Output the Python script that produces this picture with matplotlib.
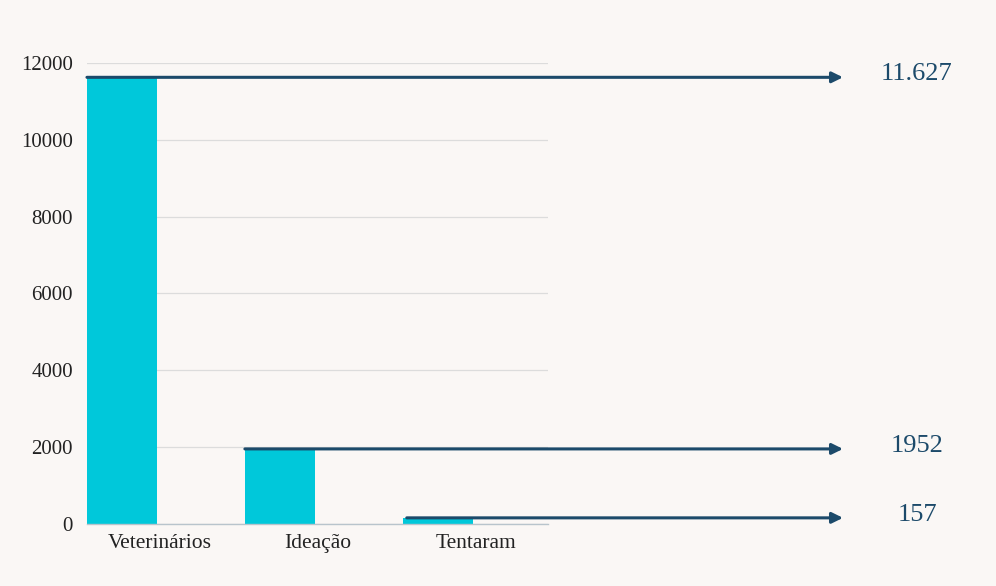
import matplotlib
matplotlib.use('Agg')
import matplotlib.pyplot as plt

categories = ['Veterinários', 'Ideação', 'Tentaram']
values = [11627, 1952, 157]
value_labels = ['11.627', '1952', '157']

BG = '#faf7f5'
BAR = '#00c8da'
NAVY = '#1c4a6a'

plt.rcParams['font.family'] = ['Liberation Serif', 'DejaVu Serif']

fig = plt.figure(figsize=(9.96, 5.86), dpi=100, facecolor=BG)
ax = fig.add_axes([0.0873, 0.106, 0.4627, 0.7865], facecolor=BG)

x = range(len(categories))
left = [i - 0.462 for i in x]
ax.bar(left, values, width=0.443, align='edge', color=BAR, zorder=2)

ax.set_xlim(-0.462, 2.456)
ax.set_ylim(0, 12000)
ax.set_yticks(range(0, 12001, 2000))
ax.set_xticks(list(x))
ax.set_xticklabels(categories, fontsize=15.5, color='#222222')
ax.tick_params(axis='y', labelsize=15, labelcolor='#222222', length=0, pad=10)
ax.tick_params(axis='x', length=0, pad=7)
ax.grid(axis='y', color='#dcdcdc', linewidth=0.9, zorder=0)
for s in ['top', 'right', 'left']:
    ax.spines[s].set_visible(False)
ax.spines['bottom'].set_color('#b8c4cc')
ax.spines['bottom'].set_linewidth(1.0)

# arrows from each bar out to the value labels
arrow_end = 843 / 996
label_x = 917 / 996
starts = [left[0], left[1], left[2] + 0.025]
for xs, v, lab in zip(starts, values, value_labels):
    ax.annotate('', xy=(arrow_end, v), xycoords=('figure fraction', 'data'),
                xytext=(xs, v), textcoords='data',
                arrowprops=dict(arrowstyle='-|>,head_length=0.65,head_width=0.32',
                                color=NAVY, lw=2.2, shrinkA=0, shrinkB=0),
                annotation_clip=False, zorder=3)
    ax.annotate(lab, xy=(label_x, v), xycoords=('figure fraction', 'data'),
                xytext=(0, -2), textcoords='offset points',
                ha='center', va='baseline', fontsize=19, color=NAVY,
                annotation_clip=False)

fig.savefig('out.png', dpi=100, facecolor=BG)
